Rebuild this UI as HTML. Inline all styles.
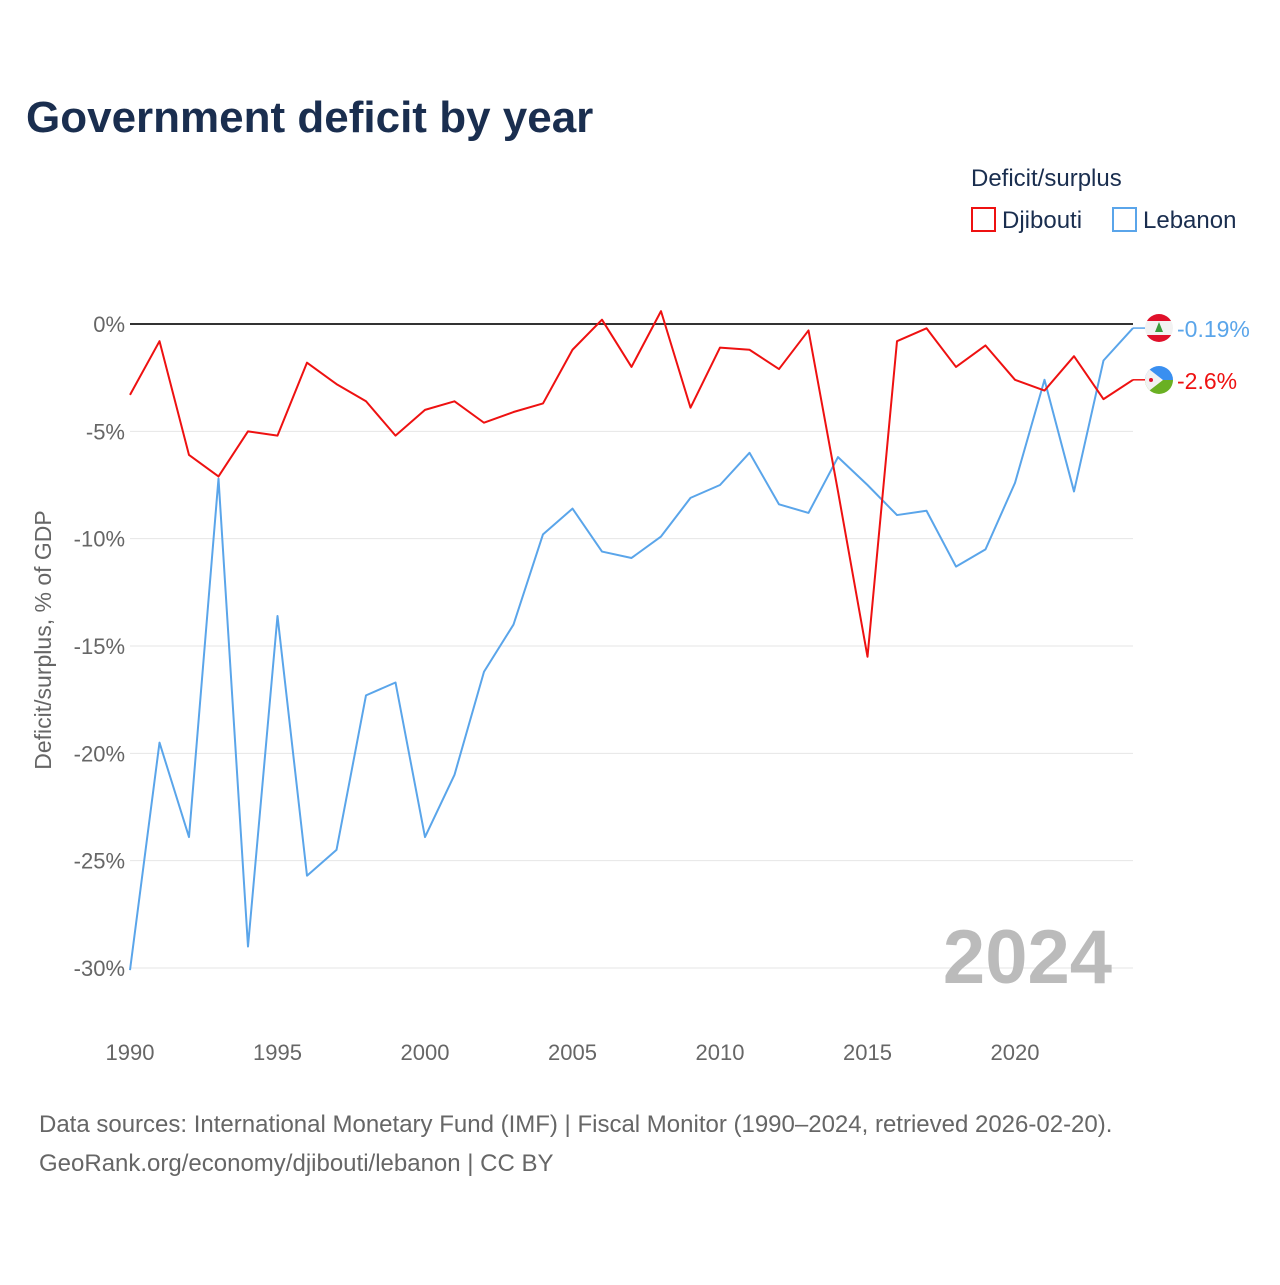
<!DOCTYPE html>
<html><head><meta charset="utf-8"><style>
body{margin:0;background:#fff;font-family:"Liberation Sans",sans-serif;}
svg text{font-family:"Liberation Sans",sans-serif;}
</style></head><body>
<svg width="1280" height="1280" id="c">
<defs>
<clipPath id="clipL"><circle cx="1159" cy="328" r="14"/></clipPath>
<clipPath id="clipD"><circle cx="1159" cy="380" r="14"/></clipPath>
</defs>
<text x="26" y="132" font-size="44" font-weight="bold" fill="#1a2e4f">Government deficit by year</text>
<text x="971" y="186" font-size="24" fill="#1a2e4f">Deficit/surplus</text>
<rect x="972" y="208" width="23" height="23" fill="none" stroke="#ee1111" stroke-width="2"/>
<text x="1002" y="228" font-size="24" fill="#1a2e4f">Djibouti</text>
<rect x="1113" y="208" width="23" height="23" fill="none" stroke="#5aa5ea" stroke-width="2"/>
<text x="1143" y="228" font-size="24" fill="#1a2e4f">Lebanon</text>
<text transform="translate(51,640) rotate(-90)" text-anchor="middle" font-size="23" fill="#666">Deficit/surplus, % of GDP</text>
<g id="grid"></g><g id="series"></g>
<g clip-path="url(#clipL)">
<rect x="1145" y="314" width="28" height="28" fill="#f2f2f2"/>
<rect x="1145" y="314" width="28" height="7" fill="#e0102a"/>
<rect x="1145" y="335" width="28" height="7" fill="#e0102a"/>
<polygon points="1159,322 1155,332 1163,332" fill="#3a9a3a"/>
</g>
<g clip-path="url(#clipD)">
<rect x="1145" y="366" width="28" height="14" fill="#3a8ff0"/>
<rect x="1145" y="380" width="28" height="14" fill="#6ab023"/>
<polygon points="1145,366 1163,380 1145,394" fill="#f2f2f2"/>
<circle cx="1151" cy="380" r="2" fill="#e0102a"/>
</g>
<text x="1112" y="983" text-anchor="end" font-size="76" font-weight="bold" fill="#bbb">2024</text>
<text x="39" y="1132" font-size="24" fill="#666">Data sources: International Monetary Fund (IMF) | Fiscal Monitor (1990–2024, retrieved 2026-02-20).</text>
<text x="39" y="1171" font-size="24" fill="#666">GeoRank.org/economy/djibouti/lebanon | CC BY</text>
</svg>
<script>
const years=[];for(let y=1990;y<=2024;y++)years.push(y);
const djibouti=[-3.3,-0.8,-6.1,-7.1,-5.0,-5.2,-1.8,-2.8,-3.6,-5.2,-4.0,-3.6,-4.6,-4.1,-3.7,-1.2,0.2,-2.0,0.6,-3.9,-1.1,-1.2,-2.1,-0.3,-7.8,-15.5,-0.8,-0.2,-2.0,-1.0,-2.6,-3.1,-1.5,-3.5,-2.6];
const lebanon=[-30.1,-19.5,-23.9,-7.2,-29.0,-13.6,-25.7,-24.5,-17.3,-16.7,-23.9,-21.0,-16.2,-14.0,-9.8,-8.6,-10.6,-10.9,-9.9,-8.1,-7.5,-6.0,-8.4,-8.8,-6.2,-7.5,-8.9,-8.7,-11.3,-10.5,-7.4,-2.6,-7.8,-1.7,-0.19];
const yTicks=[0,-5,-10,-15,-20,-25,-30];
const xTicks=[1990,1995,2000,2005,2010,2015,2020];
const NS="http://www.w3.org/2000/svg";
const X=y=>130+(y-1990)*(1133-130)/34;
function mk(t,a,p){const e=document.createElementNS(NS,t);for(const k in a)e.setAttribute(k,a[k]);p.appendChild(e);return e;}
const g=document.getElementById('grid'),s=document.getElementById('series');
const Yf=v=>324+(-v)*(644/30);
yTicks.forEach(v=>{
 const l=mk('line',{x1:130,x2:1133,y1:Yf(v),y2:Yf(v),stroke:v===0?'#333':'#e6e6e6','stroke-width':v===0?2:1},g);
 
 
 const t=mk('text',{x:125,y:Yf(v)+8,'text-anchor':'end','font-size':22,fill:'#666'},g);t.textContent=v+'%';
 
 
});
xTicks.forEach(y=>{
 const t=mk('text',{x:X(y),y:1060,'text-anchor':'middle','font-size':22,fill:'#666'},g);t.textContent=y;
 
 
});
function line(data,col,name,label){
 const p=mk('polyline',{points:data.map((v,i)=>X(years[i])+','+Yf(v)).join(' '),fill:'none',stroke:col,'stroke-width':2,'stroke-linejoin':'round'},s);
 
 
 const last=data[data.length-1],ly=Yf(last);
 mk('line',{x1:1133,x2:1145,y1:ly,y2:ly,stroke:col,'stroke-width':1.5},s);
 const t=mk('text',{x:1177,y:ly+9,'font-size':23,fill:col},s);t.textContent=label;
 
 
}
line(lebanon,'#5aa5ea','lebanon','-0.19%');
line(djibouti,'#ee1111','djibouti','-2.6%');
</script>
</body></html>
